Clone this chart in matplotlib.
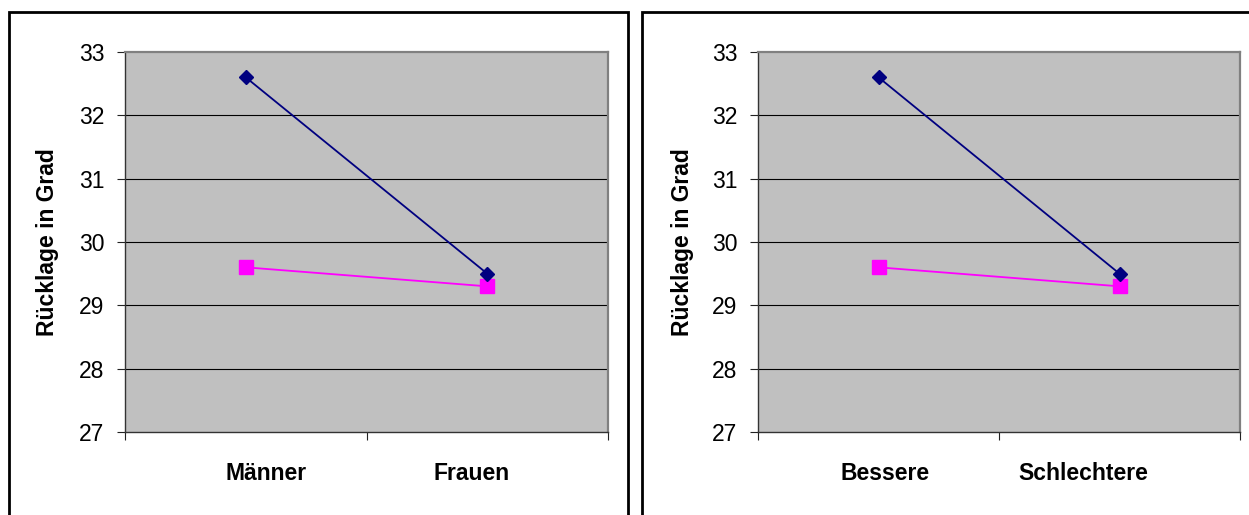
import matplotlib
matplotlib.use("Agg")
import matplotlib.pyplot as plt
from matplotlib.patches import Rectangle
from matplotlib.transforms import blended_transform_factory, ScaledTranslation

# Mean backward lean (degrees) for two groupings
left_categories = ["Männer", "Frauen"]
right_categories = ["Bessere", "Schlechtere"]
series_blue = [32.6, 29.5]
series_pink = [29.6, 29.3]
y_ticks = [27, 28, 29, 30, 31, 32, 33]
y_label = "Rücklage in Grad"

W, H = 1249, 515
DPI = 100
plt.rcParams["font.family"] = ["Liberation Sans", "DejaVu Sans"]

fig = plt.figure(figsize=(W / DPI, H / DPI), dpi=DPI)
fig.patch.set_facecolor("white")

# panel frames (the right one runs off the page edge)
for x0, x1 in [(9, 628), (642, 1262)]:
    fig.patches.append(Rectangle((x0 / W, -0.05), (x1 - x0) / W, (H - 12) / H + 0.05,
                                 transform=fig.transFigure, fill=False,
                                 edgecolor="black", linewidth=2.0, zorder=0))


def panel(rect, categories, label_shift, ylabel_x):
    ax = fig.add_axes(rect)
    ax.set_facecolor("#C0C0C0")
    xs = list(range(len(categories)))
    ax.plot(xs, series_blue, color="#000080", lw=1.3, marker="D", ms=7.5,
            mec="#000080", mfc="#000080", zorder=4, clip_on=False)
    ax.plot(xs, series_pink, color="#FF00FF", lw=1.3, marker="s", ms=10,
            mec="#FF00FF", mfc="#FF00FF", zorder=3, clip_on=False)
    ax.set_xlim(-0.5, len(categories) - 0.5)
    ax.set_ylim(y_ticks[0], y_ticks[-1])
    ax.set_yticks(y_ticks)
    ax.set_yticklabels([str(t) for t in y_ticks], fontsize=16.5)
    ax.tick_params(axis="y", direction="out", length=6, width=0.8,
                   color="#222222", pad=9)
    for t in y_ticks[1:-1]:
        ax.axhline(t, color="black", lw=0.8, zorder=1)
    # category boundaries carry the tick marks
    ax.set_xticks([i - 0.5 for i in range(len(categories) + 1)])
    ax.set_xticklabels([])
    ax.tick_params(axis="x", direction="out", length=6, width=0.8, color="#222222")
    trans = blended_transform_factory(ax.transData, ax.transAxes)
    for x, name, dx in zip(xs, categories, label_shift):
        ax.text(x, 0, name, fontsize=16.5, fontweight="bold",
                ha="center", va="top",
                transform=trans + ScaledTranslation(dx / DPI, -30 / DPI, fig.dpi_scale_trans))
    for side in ("left", "bottom"):
        ax.spines[side].set_color("#333333")
        ax.spines[side].set_linewidth(1.0)
    for side in ("top", "right"):
        ax.spines[side].set_color("#808080")
        ax.spines[side].set_linewidth(1.6)
    ax.text(ylabel_x, 0.5, y_label, rotation=90, fontsize=16.5, fontweight="bold",
            ha="center", va="center", transform=ax.transAxes)
    return ax


ax1 = panel([125 / W, (H - 432) / H, 483 / W, 380 / H], left_categories,
            (20, -16), -77 / 483)
ax2 = panel([758 / W, (H - 432) / H, 482 / W, 380 / H], right_categories,
            (7, -36), -76 / 482)

fig.savefig("out.png", dpi=DPI, facecolor="white")
